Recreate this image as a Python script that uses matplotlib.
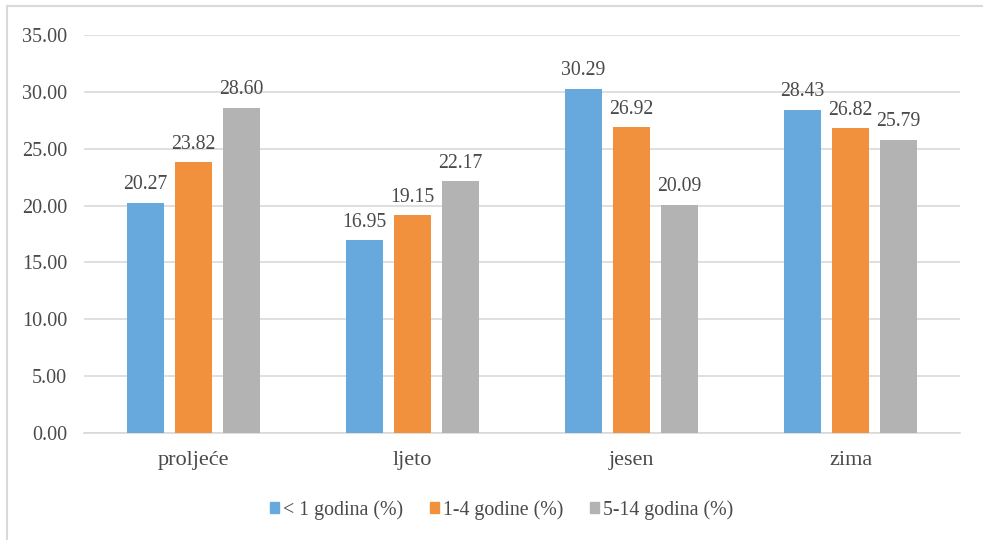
import matplotlib.pyplot as plt
from matplotlib.lines import Line2D
import numpy as np

seasons = ['proljeće', 'ljeto', 'jesen', 'zima']
series_names = ['< 1 godina (%)', '1-4 godine (%)', '5-14 godina (%)']
under1 = [20.27, 16.95, 30.29, 28.43]
age1_4 = [23.82, 19.15, 26.92, 26.82]
age5_14 = [28.60, 22.17, 20.09, 25.79]
colors = ['#67A9DD', '#F2913D', '#B3B3B3']

plt.rcParams['font.family'] = ['Liberation Serif', 'DejaVu Serif']
txt = '#4A4A4A'

fig = plt.figure(figsize=(9.83, 5.4), dpi=100)
ax = fig.add_axes([84/983, 1-433/540, 876/983, 398/540])

x = np.arange(len(seasons))
w = 0.169
step = 0.219
for i, (vals, name) in enumerate(zip([under1, age1_4, age5_14], series_names)):
    pos = x + (i-1)*step
    bars = ax.bar(pos, vals, w, color=colors[i], label=name, zorder=3)
    for b, v in zip(bars, vals):
        ax.annotate('%.2f' % v, (b.get_x()+b.get_width()/2, v), xytext=(0, 6),
                    textcoords='offset points', ha='center', va='bottom',
                    fontsize=14.2, color=txt)

ax.set_xlim(-0.5, 3.5)
ax.set_ylim(0, 35)
ax.set_yticks(np.arange(0, 36, 5))
ax.set_yticklabels(['%.2f' % t for t in np.arange(0, 36, 5)])
ax.set_xticks(x)
ax.set_xticklabels(seasons)
ax.tick_params(axis='y', length=0, pad=12, labelsize=14.5, labelcolor=txt)
ax.tick_params(axis='x', length=0, pad=13, labelsize=16, labelcolor=txt)
ax.grid(axis='y', color='#D9D9D9', linewidth=1.2, zorder=0)
for s in ['top', 'right', 'left']:
    ax.spines[s].set_visible(False)
ax.spines['bottom'].set_color('#D9D9D9')
ax.spines['bottom'].set_linewidth(1.2)

handles = [plt.Rectangle((0, 0), 1, 1, color=c) for c in colors]
fig.legend(handles, series_names, loc='center', bbox_to_anchor=(0.51, 1-510/540),
           ncol=3, frameon=False, fontsize=14.3, handlelength=0.45, handleheight=0.45,
           handletextpad=0.2, columnspacing=1.35, labelcolor=txt)

# outer frame
fig.add_artist(Line2D([7/983, 7/983], [0, 1-6/540], color='#D9D9D9', lw=1.5, transform=fig.transFigure))
fig.add_artist(Line2D([7/983, 1], [1-6/540, 1-6/540], color='#D9D9D9', lw=1.5, transform=fig.transFigure))

fig.savefig('out.png', dpi=100)
